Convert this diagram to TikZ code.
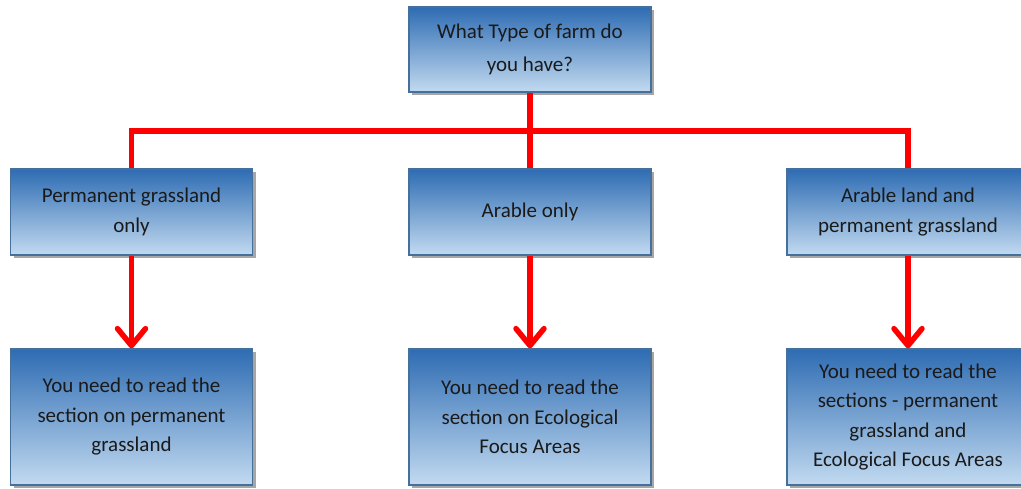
\documentclass[tikz,border=0pt]{standalone}
\usepackage{fontspec}
\setmainfont{Carlito}
\usetikzlibrary{arrows.meta,shadows}
\definecolor{boxtop}{HTML}{2E6CB3}
\definecolor{boxbot}{HTML}{C2DAF0}
\definecolor{boxline}{HTML}{46709C}
\definecolor{txt}{HTML}{1A1A1A}
\tikzset{
  flowbox/.style={rectangle, draw=boxline, line width=1.3pt,
    top color=boxtop, bottom color=boxbot,
    minimum width=242pt, inner sep=0pt, align=center,
    text=txt, font=\fontsize{21}{29.5}\selectfont,
    drop shadow={shadow xshift=3pt, shadow yshift=-3pt, fill=black, opacity=0.35}},
  midbox/.style={flowbox, minimum height=86pt},
  lowbox/.style={flowbox, minimum height=136pt},
  redline/.style={draw=red, line width=5.5pt, line join=miter},
  redarrow/.style={redline, -{Straight Barb[length=17pt,width=28pt,line cap=round,line join=round]}}
}
\begin{document}
\begin{tikzpicture}[x=1pt,y=-1pt]
\useasboundingbox (0,0) rectangle (1021,488);
\node[flowbox, minimum height=85pt, font=\fontsize{21}{33}\selectfont] (top) at (530,49.5) {What Type of farm do\\you have?};
\node[midbox] (m1) at (131.5,212) {Permanent grassland\\only};
\node[midbox] (m2) at (530,212) {Arable only};
\node[midbox] (m3) at (908,212) {Arable land and\\permanent grassland};
\node[lowbox] (b1) at (131.5,417) {You need to read the\\section on permanent\\grassland};
\node[lowbox] (b2) at (530,417) {You need to read the\\section on Ecological\\Focus Areas};
\node[lowbox] (b3) at (908,417) {You need to read the\\sections - permanent\\grassland and\\Ecological Focus Areas};
\coordinate (bus) at (530,131);
\draw[redline] (top.south) -- (m2.north);
\draw[redline] (m1.north) |- (bus) -| (m3.north);
\draw[redarrow] (m1.south) -- (b1.north);
\draw[redarrow] (m2.south) -- (b2.north);
\draw[redarrow] (m3.south) -- (b3.north);
\end{tikzpicture}
\end{document}
